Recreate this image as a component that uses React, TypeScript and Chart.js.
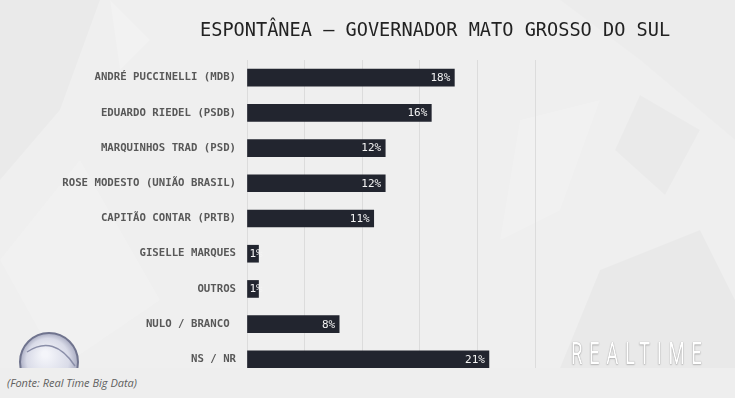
import React, { useEffect, useRef } from "react";
import { Chart, registerables } from "chart.js";

Chart.register(...registerables);

const categories = [
  "ANDRÉ PUCCINELLI (MDB)",
  "EDUARDO RIEDEL (PSDB)",
  "MARQUINHOS TRAD (PSD)",
  "ROSE MODESTO (UNIÃO BRASIL)",
  "CAPITÃO CONTAR (PRTB)",
  "GISELLE MARQUES",
  "OUTROS",
  "NULO / BRANCO ",
  "NS / NR",
];
const values = [18, 16, 12, 12, 11, 1, 1, 8, 21];
const valueLabels = values.map((v) => v + "%");
const xMin = 0;
const xMax = 25;
const xStep = 5;

const titleText = "ESPONTÂNEA — GOVERNADOR MATO GROSSO DO SUL";
const sourceText = "(Fonte: Real Time Big Data)";
const brandText = "REALTIME";

const bgPlugin = {
  id: "bgShapes",
  beforeDraw(chart: any) {
    const { ctx, width, height } = chart;
    ctx.save();
    ctx.fillStyle = "#efefef";
    ctx.fillRect(0, 0, width, height);
    const poly = (pts: number[][], color: string) => {
      ctx.beginPath();
      ctx.moveTo(pts[0][0], pts[0][1]);
      for (let i = 1; i < pts.length; i++) ctx.lineTo(pts[i][0], pts[i][1]);
      ctx.closePath();
      ctx.fillStyle = color;
      ctx.fill();
    };
    poly([[0, 0], [100, 0], [60, 110], [0, 180]], "rgba(0,0,0,0.018)");
    poly([[110, 0], [150, 40], [120, 70]], "rgba(255,255,255,0.18)");
    poly([[0, 260], [80, 160], [160, 300], [60, 368]], "rgba(255,255,255,0.14)");
    poly([[560, 0], [735, 0], [735, 140], [640, 60]], "rgba(0,0,0,0.012)");
    poly([[640, 95], [700, 130], [665, 195], [615, 150]], "rgba(0,0,0,0.018)");
    poly([[600, 270], [700, 230], [735, 300], [735, 368], [560, 368]], "rgba(0,0,0,0.025)");
    poly([[520, 120], [600, 100], [560, 210], [500, 240]], "rgba(255,255,255,0.15)");
    // logo
    const cx = 49, cy = 362, r = 29;
    const g = ctx.createRadialGradient(cx - 4, cy - 8, 3, cx, cy, r);
    g.addColorStop(0, "#f4f5fa");
    g.addColorStop(0.7, "#d9dbe8");
    g.addColorStop(1, "#a9acc2");
    ctx.beginPath();
    ctx.arc(cx, cy, r, 0, Math.PI * 2);
    ctx.fillStyle = g;
    ctx.fill();
    ctx.lineWidth = 2;
    ctx.strokeStyle = "#70748e";
    ctx.stroke();
    ctx.beginPath();
    ctx.moveTo(cx - 22, cy - 10);
    ctx.quadraticCurveTo(cx + 5, cy - 28, cx + 26, cy + 4);
    ctx.strokeStyle = "#8a8ea8";
    ctx.lineWidth = 1.5;
    ctx.stroke();
    ctx.restore();
  },
};

const valuePlugin = {
  id: "valueLabels",
  afterDatasetsDraw(chart: any) {
    const { ctx } = chart;
    const meta = chart.getDatasetMeta(0);
    ctx.save();
    ctx.font = "11px 'DejaVu Sans Mono'";
    ctx.fillStyle = "#f4f4f4";
    ctx.textAlign = "right";
    ctx.textBaseline = "middle";
    meta.data.forEach((bar: any, i: number) => {
      const t = valueLabels[i];
      const w = ctx.measureText(t).width;
      const x = Math.max(bar.x - 4, bar.base + 2 + w);
      ctx.fillText(t, x, bar.y + 0.5);
    });
    ctx.restore();
  },
};

export default function App() {
  const ref = useRef<HTMLCanvasElement | null>(null);
  useEffect(() => {
    if (!ref.current) return;
    const chart = new Chart(ref.current, {
      type: "bar",
      data: {
        labels: categories,
        datasets: [
          {
            data: values,
            backgroundColor: "#22252f",
            borderWidth: 0,
            barThickness: 17,
          },
        ],
      },
      options: {
        indexAxis: "y",
        animation: false,
        responsive: false,
        maintainAspectRatio: false,
        layout: { padding: { top: 60, bottom: 21, left: 0, right: 200 } },
        plugins: {
          legend: { display: false },
          title: { display: false },
          tooltip: { enabled: false },
        },
        scales: {
          x: {
            min: xMin,
            max: xMax,
            ticks: { display: false, stepSize: xStep },
            grid: { color: "#dcdcdc", lineWidth: 1, drawTicks: false },
            border: { display: false },
            afterFit: (s: any) => {
              s.height = 0;
            },
          },
          y: {
            ticks: {
              color: "#585858",
              padding: 11,
              font: { family: "'DejaVu Sans Mono'", size: 10.7, weight: "bold" },
            },
            grid: { display: false, drawTicks: false },
            border: { display: false },
            afterFit: (s: any) => {
              s.width = 247;
            },
          },
        },
      },
      plugins: [bgPlugin, valuePlugin],
    });
    return () => chart.destroy();
  }, []);

  return (
    <div style={{ position: "fixed", left: 0, top: 0, width: 735, height: 398, overflow: "hidden", background: "#eeeeee" }}>
      <canvas ref={ref} width={735} height={398} style={{ position: "absolute", left: 0, top: 0, width: 735, height: 398 }} />
      <div
        style={{
          position: "absolute",
          left: 200,
          top: 21,
          fontFamily: "'DejaVu Sans Mono', monospace",
          fontSize: 18.6,
          lineHeight: "18.6px",
          color: "#222222",
          whiteSpace: "pre",
        }}
      >
        {titleText}
      </div>
      <div
        style={{
          position: "absolute",
          left: 571,
          top: 338,
          fontFamily: "Roboto, sans-serif",
          fontWeight: 400,
          fontSize: 31,
          lineHeight: "31px",
          letterSpacing: 11,
          color: "#ffffff",
          textShadow: "0 0 1px rgba(0,0,0,0.45), 0 1px 2px rgba(0,0,0,0.2)",
          transform: "scaleX(0.6)",
          transformOrigin: "left top",
          whiteSpace: "pre",
        }}
      >
        {brandText}
      </div>
      <div
        style={{
          position: "absolute",
          left: 0,
          top: 368,
          width: 735,
          height: 30,
          background: "#eeeeee",
        }}
      >
        <div
          style={{
            position: "absolute",
            left: 7,
            top: 8,
            fontFamily: "'Open Sans', sans-serif",
            fontStyle: "italic",
            fontSize: 11,
            lineHeight: "14px",
            color: "#606060",
            whiteSpace: "pre",
          }}
        >
          {sourceText}
        </div>
      </div>
    </div>
  );
}
